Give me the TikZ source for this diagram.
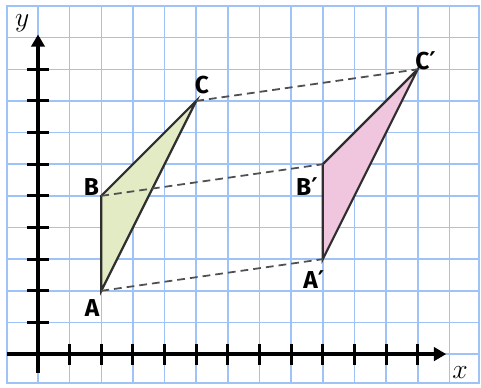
\documentclass[tikz,border=0pt]{standalone}
\usepackage{fontspec}
\newfontfamily\labfont{Fira Sans}
\newfontfamily\primefont{DejaVu Sans}
\newcommand{\prm}{{\primefont ′}}
\usetikzlibrary{arrows.meta}
\definecolor{gridblue}{HTML}{9FC2F7}
\definecolor{trigreen}{HTML}{E2EBC3}
\definecolor{tripink}{HTML}{F0C5DE}
\definecolor{edgegray}{HTML}{2E2E2E}
\definecolor{dashgray}{HTML}{505050}
\tikzset{
  gridline/.style={gridblue, line width=1.4pt},
  axisline/.style={black, line width=3pt, -{Triangle[length=11pt,width=12pt]}},
  tickline/.style={black, line width=2.8pt},
  triedge/.style={edgegray, line width=2pt, line join=miter},
  guide/.style={dashgray, line width=1.6pt, dash pattern=on 7pt off 4.5pt},
  ptlabel/.style={font=\labfont\bfseries\fontsize{22}{22}\selectfont, inner sep=0pt},
  axlabel/.style={font=\fontsize{23}{23}\selectfont, inner sep=0pt}
}
\begin{document}
\begin{tikzpicture}
\useasboundingbox (-1.201,-1.043) rectangle (14.0,11.19);
% grid
\begin{scope}
\clip (-0.98,-0.917) rectangle (13.94,11.0);
\foreach \i in {0,...,13} \draw[gridline] (\i,-1.5) -- (\i,11.5);
\foreach \j in {-0,...,10} \draw[gridline] (-1.5,\j) -- (14.5,\j);
\end{scope}
\draw[gridline] (-0.98,-0.917) rectangle (13.94,11.0);
% axes
\coordinate (xs) at (-0.97,0);
\coordinate (xe) at (12.9,0);
\coordinate (ys) at (0,-0.6);
\coordinate (ye) at (0,10.1);
\draw[axisline] (xs) -- (xe);
\draw[axisline] (ys) -- (ye);
\foreach \i in {1,...,12} \draw[tickline] (\i,-0.33) -- (\i,0.33);
\foreach \j in {1,...,9} \draw[tickline] (-0.34,\j) -- (0.34,\j);
\node[axlabel] (xl) at (13.34,-0.57) {$x$};
\node[axlabel] (yl) at (-0.5,10.47) {$y$};
% points
\coordinate (A) at (2,2);
\coordinate (B) at (2,5);
\coordinate (C) at (5,8);
\coordinate (A1) at (9,3);
\coordinate (B1) at (9,6);
\coordinate (C1) at (12,9);
% triangles
\filldraw[triedge, fill=trigreen] (A) -- (B) -- (C) -- cycle;
\filldraw[triedge, fill=tripink] (A1) -- (B1) -- (C1) -- cycle;
% guides
\draw[guide] (A) -- (A1);
\draw[guide] (B) -- (B1);
\draw[guide] (C) -- (C1);
% labels
\node[ptlabel] (lA) at (1.71,1.45) {A};
\node[ptlabel] (lB) at (1.69,5.29) {B};
\node[ptlabel] (lC) at (5.18,8.5) {C};
\node[ptlabel] (lA1) at (8.72,2.37) {A\prm};
\node[ptlabel] (lB1) at (8.5,5.29) {B\prm};
\node[ptlabel] (lC1) at (12.25,9.27) {C\prm};
\end{tikzpicture}
\end{document}
